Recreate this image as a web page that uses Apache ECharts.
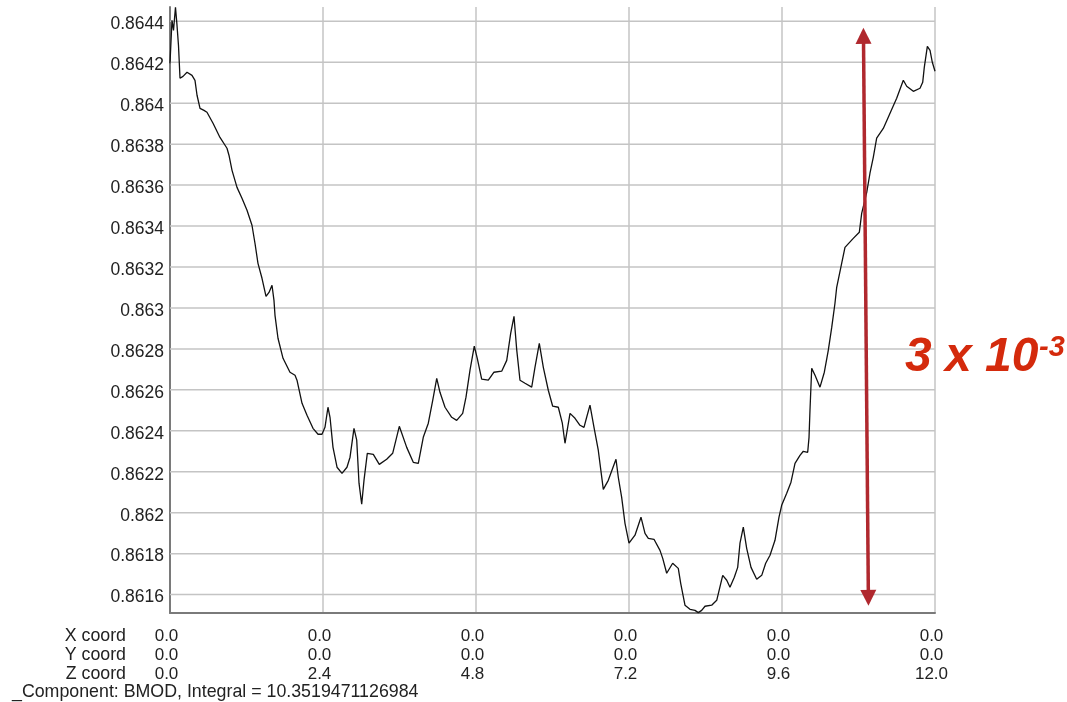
<!DOCTYPE html>
<html>
<head>
<meta charset="utf-8">
<script src="https://cdn.jsdelivr.net/npm/echarts@6/dist/echarts.min.js"></script>
<style>
html,body{margin:0;padding:0;background:#fff;}
#chart{width:1067px;height:702px;}
</style>
</head>
<body>
<div id="chart"></div>
<script>
// ---- data (Z coord along the line, BMOD component value) ----
const zCoord = [0.000,0.031,0.055,0.086,0.110,0.133,0.157,0.204,0.267,0.345,0.392,0.424,0.471,0.533,0.580,0.675,0.784,0.894,0.925,0.973,
1.051,1.129,1.208,1.286,1.333,1.380,1.443,1.506,1.553,1.600,1.631,1.647,1.694,1.773,1.882,1.961,1.992,2.071,2.149,2.243,
2.322,2.384,2.431,2.478,2.510,2.557,2.620,2.698,2.776,2.824,2.886,2.929,2.965,3.007,3.043,3.095,3.189,3.283,3.399,3.493,
3.597,3.713,3.816,3.895,3.973,4.052,4.121,4.184,4.235,4.314,4.419,4.497,4.591,4.643,4.706,4.773,4.820,4.889,4.993,5.082,
5.203,5.282,5.344,5.396,5.438,5.490,5.569,5.674,5.725,5.793,5.856,5.934,6.003,6.091,6.154,6.196,6.275,6.353,6.431,6.494,
6.536,6.588,6.651,6.718,6.797,6.875,6.944,6.996,7.032,7.085,7.137,7.200,7.294,7.388,7.451,7.503,7.592,7.686,7.729,7.791,
7.885,7.973,8.011,8.078,8.157,8.235,8.287,8.340,8.392,8.497,8.576,8.670,8.733,8.784,8.852,8.905,8.941,8.993,9.046,9.114,
9.203,9.282,9.344,9.412,9.490,9.553,9.595,9.674,9.741,9.804,9.882,9.934,10.003,10.024,10.039,10.066,10.118,10.196,10.264,10.326,
10.380,10.431,10.458,10.536,10.588,10.718,10.813,10.850,10.929,10.980,11.032,11.085,11.189,11.267,11.336,11.399,11.503,11.556,11.660,11.765,
11.807,11.832,11.880,11.922,11.958,12.000];
const bmod = [0.864195,0.864405,0.864356,0.864468,0.864380,0.864283,0.864122,0.864131,0.864151,0.864136,0.864112,0.864039,0.863975,0.863965,0.863956,0.863902,0.863833,0.863780,0.863746,0.863672,
0.863589,0.863536,0.863477,0.863404,0.863316,0.863218,0.863145,0.863057,0.863076,0.863111,0.863037,0.862964,0.862852,0.862754,0.862686,0.862671,0.862647,0.862534,0.862476,0.862412,
0.862383,0.862383,0.862417,0.862515,0.862466,0.862319,0.862222,0.862192,0.862222,0.862271,0.862412,0.862354,0.862144,0.862041,0.862158,0.862290,0.862285,0.862236,0.862261,0.862290,
0.862422,0.862319,0.862246,0.862241,0.862368,0.862437,0.862549,0.862656,0.862588,0.862515,0.862466,0.862451,0.862485,0.862564,0.862696,0.862813,0.862754,0.862652,0.862647,0.862686,
0.862691,0.862744,0.862876,0.862959,0.862798,0.862647,0.862632,0.862613,0.862710,0.862827,0.862710,0.862598,0.862520,0.862515,0.862437,0.862339,0.862485,0.862461,0.862427,0.862417,
0.862466,0.862525,0.862417,0.862305,0.862114,0.862158,0.862217,0.862261,0.862173,0.862075,0.861948,0.861851,0.861890,0.861978,0.861899,0.861875,0.861870,0.861816,0.861777,0.861704,
0.861753,0.861728,0.861655,0.861548,0.861528,0.861523,0.861512,0.861523,0.861543,0.861548,0.861572,0.861694,0.861670,0.861636,0.861685,0.861733,0.861851,0.861929,0.861826,0.861733,
0.861675,0.861694,0.861753,0.861792,0.861865,0.861978,0.862036,0.862095,0.862149,0.862241,0.862280,0.862300,0.862295,0.862368,0.862500,0.862705,0.862671,0.862613,0.862686,0.862793,
0.862905,0.863023,0.863101,0.863218,0.863296,0.863340,0.863370,0.863462,0.863565,0.863658,0.863736,0.863829,0.863877,0.863931,0.863980,0.864024,0.864112,0.864083,0.864058,0.864073,
0.864102,0.864175,0.864278,0.864258,0.864200,0.864156];

// ---- axis ticks / labels ----
const yTicks = [0.8616,0.8618,0.8620,0.8622,0.8624,0.8626,0.8628,0.8630,0.8632,0.8634,0.8636,0.8638,0.8640,0.8642,0.8644];
const yTickLabels = ['0.8616','0.8618','0.862','0.8622','0.8624','0.8626','0.8628','0.863','0.8632','0.8634','0.8636','0.8638','0.864','0.8642','0.8644'];
const xTicks = [0, 2.4, 4.8, 7.2, 9.6, 12.0];
const xCoordRow = ['0.0','0.0','0.0','0.0','0.0','0.0'];
const yCoordRow = ['0.0','0.0','0.0','0.0','0.0','0.0'];
const zCoordRow = ['0.0','2.4','4.8','7.2','9.6','12.0'];
const rowHeaders = ['X coord','Y coord','Z coord'];
const footerText = '_Component: BMOD, Integral = 10.3519471126984';

// ---- annotation (range arrow in data coordinates) ----
const arrowTop = [10.878, 0.864329];
const arrowBottom = [10.955, 0.861584];
const annotationMain = '3 x 10';
const annotationSup = '-3';

const FONT = '"Liberation Sans", Arial, sans-serif';
const chart = echarts.init(document.getElementById('chart'), null, {renderer: 'canvas'});

const lineData = zCoord.map((z, i) => [z, bmod[i]]);
const xMin = xTicks[0], xMax = xTicks[xTicks.length - 1];

// horizontal grid lines, drawn through the axes as plain two-point lines
const gridSeries = yTicks.map(t => ({
  type: 'line', data: [[xMin, t], [xMax, t]], z: 1,
  showSymbol: false, silent: true, animation: false,
  lineStyle: {color: '#c4c4c4', width: 1.5},
  emphasis: {disabled: true}
}));

chart.setOption({
  animation: false,
  backgroundColor: '#ffffff',
  grid: {left: 170, right: 132, top: 7, bottom: 89, outerBoundsMode: 'none', containLabel: false},
  xAxis: {
    type: 'value', min: xMin, max: xMax, interval: 2.4,
    axisLine: {show: true, lineStyle: {color: '#7a7a7a', width: 2}},
    axisTick: {show: false},
    splitLine: {show: true, lineStyle: {color: '#c4c4c4', width: 1.5}},
    axisLabel: {
      show: true, showMinLabel: true, showMaxLabel: true,
      margin: 14, color: '#222', fontFamily: FONT, fontSize: 17, lineHeight: 19,
      align: 'center', verticalAlign: 'top', padding: [0, 7, 0, 0],
      formatter: function (v) {
        let idx = xTicks.findIndex(t => Math.abs(t - v) < 1e-6);
        if (idx < 0) return '';
        return xCoordRow[idx] + '\n' + yCoordRow[idx] + '\n' + zCoordRow[idx];
      }
    }
  },
  yAxis: {
    type: 'value', min: 0.86151, max: 0.86447, interval: 0.00001, scale: true,
    axisLine: {show: true, lineStyle: {color: '#7a7a7a', width: 2}},
    axisTick: {show: false},
    splitLine: {show: false},
    axisLabel: {
      show: true, margin: 6, color: '#222', fontFamily: FONT, fontSize: 17.5,
      verticalAlign: 'top', lineHeight: 6,
      formatter: function (v) {
        let idx = yTicks.findIndex(t => Math.abs(t - v) < 1e-9);
        return idx < 0 ? '' : yTickLabels[idx];
      }
    }
  },
  series: gridSeries.concat([
    {
      name: 'BMOD', type: 'line', data: lineData, z: 3,
      showSymbol: false, silent: true,
      lineStyle: {color: '#111', width: 1.3},
      markLine: {
        silent: true, animation: false,
        symbol: ['triangle', 'triangle'], symbolSize: [16, 16],
        label: {show: false},
        emphasis: {disabled: true},
        lineStyle: {color: '#b0282e', width: 3.5, type: 'solid'},
        itemStyle: {color: '#b0282e'},
        data: [[{coord: arrowTop}, {coord: arrowBottom}]]
      }
    }
  ]),
  graphic: [
    {type: 'text', x: 126, y: 627, silent: true,
     style: {text: rowHeaders.join('\n'), align: 'right', verticalAlign: 'top', lineHeight: 19,
             font: '17.8px ' + FONT, fill: '#222'}},
    {type: 'text', x: 12, y: 683, silent: true,
     style: {text: footerText, align: 'left', verticalAlign: 'top', lineHeight: 19,
             font: '17.8px ' + FONT, fill: '#222'}},
    {type: 'text', x: 905, y: 334, silent: true, z: 10,
     style: {text: annotationMain, align: 'left', verticalAlign: 'top',
             font: 'italic bold 48px ' + FONT, fill: '#d42a0c'}},
    {type: 'text', x: 1039, y: 333, silent: true, z: 10,
     style: {text: annotationSup, align: 'left', verticalAlign: 'top',
             font: 'italic bold 29px ' + FONT, fill: '#d42a0c'}}
  ]
});
</script>
</body>
</html>
